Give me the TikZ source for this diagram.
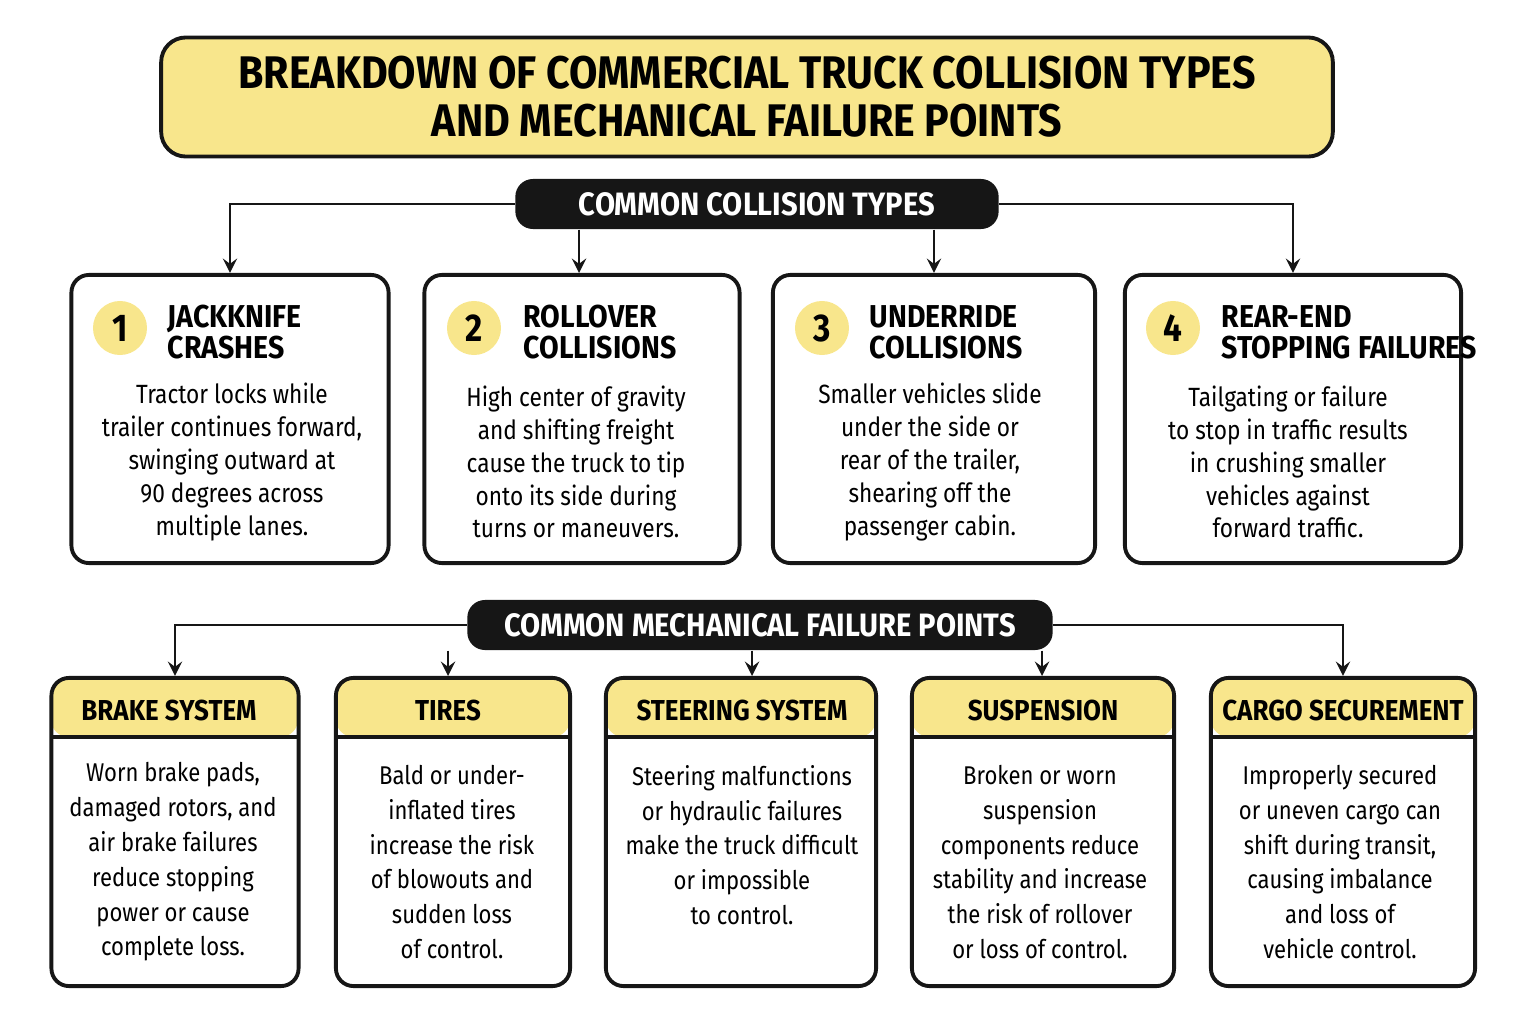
\documentclass[tikz,border=0pt]{standalone}
\usepackage{fontspec}
\setmainfont{Fira Sans}[FakeStretch=0.86]
\newfontfamily\headfont{Fira Sans}[FakeStretch=0.9]
\usetikzlibrary{positioning}
\definecolor{hlyellow}{HTML}{F8E68C}
\definecolor{ink}{HTML}{161616}
\begin{document}
\begin{tikzpicture}[x=0.01cm, y=-0.01cm, >=stealth,
  banner/.style={fill=ink, rounded corners=5pt, text=white, font=\headfont\bfseries\fontsize{9.2}{11}\selectfont, inner sep=0pt},
  card/.style={draw=ink, line width=1.1pt, rounded corners=5pt, inner sep=0pt},
  num/.style={circle, fill=hlyellow, minimum size=0.54cm, inner sep=0pt, font=\bfseries\fontsize{11}{12}\selectfont},
  ctitle/.style={anchor=west, align=left, inner sep=0pt, font=\headfont\bfseries\fontsize{9}{8.8}\selectfont},
  cbody/.style={align=center, inner sep=0pt, font=\fontsize{7.5}{9.35}\selectfont},
  mtitle/.style={inner sep=0pt, font=\headfont\bfseries\fontsize{8.2}{10}\selectfont},
  mbody/.style={align=center, inner sep=0pt, font=\fontsize{7.3}{9.9}\selectfont},
  link/.style={->, line width=0.8pt, draw=ink}]
\useasboundingbox (0,0) rectangle (1526,1024);
% title
\node[card, fill=hlyellow, rounded corners=7pt, minimum width=11.71cm, minimum height=1.19cm, align=center,
  font=\headfont\bfseries\fontsize{13}{13.6}\selectfont] (title) at (747,97)
  {BREAKDOWN OF COMMERCIAL TRUCK COLLISION TYPES\\AND MECHANICAL FAILURE POINTS};
% collision types
\node[banner, minimum width=4.83cm, minimum height=0.5cm] (ct) at (757,204) {COMMON COLLISION TYPES};
\node[card, minimum width=3.17cm, minimum height=2.88cm] (c1) at (230,419) {};
\node[card, minimum width=3.15cm, minimum height=2.88cm] (c2) at (582,419) {};
\node[card, minimum width=3.22cm, minimum height=2.88cm] (c3) at (934,419) {};
\node[card, minimum width=3.36cm, minimum height=2.88cm] (c4) at (1293,419) {};
\draw[link] (ct.west) -| (c1.north);
\draw[link] (ct.south -| 579,0) -- (579,273);
\draw[link] (ct.south -| c3.north) -- (c3.north);
\draw[link] (ct.east) -| (c4.north);
\node[num] (n1) at (120,328) {1};
\node[num] (n2) at (474,328) {2};
\node[num] (n3) at (822,328) {3};
\node[num] (n4) at (1173,328) {4};
\node[ctitle] (t1) at (167,332) {JACKKNIFE\\CRASHES};
\node[ctitle] (t2) at (523,332) {ROLLOVER\\COLLISIONS};
\node[ctitle] (t3) at (869,332) {UNDERRIDE\\COLLISIONS};
\node[ctitle] (t4) at (1221,332) {REAR-END\\STOPPING FAILURES};
\node[cbody] (b1) at (232,462) {Tractor locks while\\trailer continues forward,\\swinging outward at\\90 degrees across\\multiple lanes.};
\node[cbody] (b2) at (576,462) {High center of gravity\\and shifting freight\\cause the truck to tip\\onto its side during\\turns or maneuvers.};
\node[cbody] (b3) at (930,462) {Smaller vehicles slide\\under the side or\\rear of the trailer,\\shearing off the\\passenger cabin.};
\node[cbody] (b4) at (1288,462) {Tailgating or failure\\to stop in traffic results\\in crushing smaller\\vehicles against\\forward traffic.};
% mechanical failure points
\node[banner, minimum width=5.85cm, minimum height=0.5cm] (mf) at (760,625) {COMMON MECHANICAL FAILURE POINTS};
\fill[hlyellow, rounded corners=5pt] (51,737) |- (175,678) -| (298,737) -- cycle;
\fill[hlyellow, rounded corners=5pt] (336,737) |- (453,678) -| (570,737) -- cycle;
\fill[hlyellow, rounded corners=5pt] (606,737) |- (741,678) -| (876,737) -- cycle;
\fill[hlyellow, rounded corners=5pt] (912,737) |- (1043,678) -| (1174,737) -- cycle;
\fill[hlyellow, rounded corners=5pt] (1211,737) |- (1343,678) -| (1475,737) -- cycle;
\draw[draw=ink, line width=1.1pt] (51,737) -- (298,737) (336,737) -- (570,737) (606,737) -- (876,737)
  (912,737) -- (1174,737) (1211,737) -- (1475,737);
\node[card, minimum width=2.47cm, minimum height=3.08cm] (m1) at (175,832) {};
\node[card, minimum width=2.34cm, minimum height=3.08cm] (m2) at (453,832) {};
\node[card, minimum width=2.70cm, minimum height=3.08cm] (m3) at (741,832) {};
\node[card, minimum width=2.62cm, minimum height=3.08cm] (m4) at (1043,832) {};
\node[card, minimum width=2.64cm, minimum height=3.08cm] (m5) at (1343,832) {};
\draw[link] (mf.west) -| (m1.north);
\draw[link] (mf.south -| 448,0) -- (448,676);
\draw[link] (mf.south -| 752,0) -- (752,676);
\draw[link] (mf.south -| 1042,0) -- (1042,676);
\draw[link] (mf.east) -| (m5.north);
\node[mtitle] (h1) at (169,711) {BRAKE SYSTEM};
\node[mtitle] (h2) at (448,711) {TIRES};
\node[mtitle] (h3) at (742,711) {STEERING SYSTEM};
\node[mtitle] (h4) at (1043,711) {SUSPENSION};
\node[mtitle] (h5) at (1343,711) {CARGO SECUREMENT};
\node[mbody] (d1) at (173,862) {Worn brake pads,\\damaged rotors, and\\air brake failures\\reduce stopping\\power or cause\\complete loss.};
\node[mbody] (d2) at (452,862) {Bald or under-\\inflated tires\\increase the risk\\of blowouts and\\sudden loss\\of control.};
\node[mbody] (d3) at (742,845) {Steering malfunctions\\or hydraulic failures\\make the truck difficult\\or impossible\\to control.};
\node[mbody] (d4) at (1040,862) {Broken or worn\\suspension\\components reduce\\stability and increase\\the risk of rollover\\or loss of control.};
\node[mbody] (d5) at (1340,862) {Improperly secured\\or uneven cargo can\\shift during transit,\\causing imbalance\\and loss of\\vehicle control.};
\end{tikzpicture}
\end{document}
